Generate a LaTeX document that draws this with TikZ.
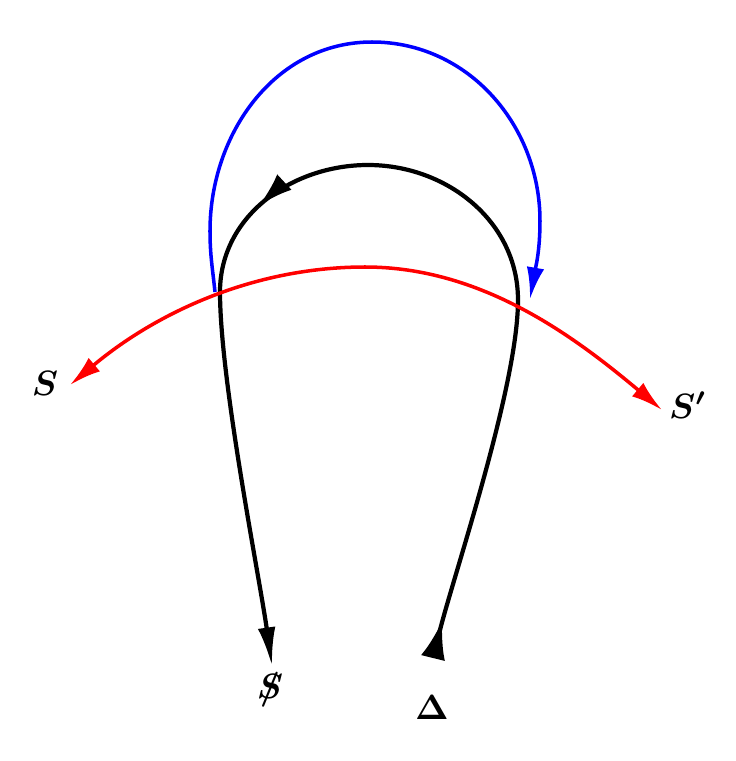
\documentclass[tikz,border=0pt]{standalone}
\usetikzlibrary{arrows.meta,decorations.markings}

\begin{document}
\begin{tikzpicture}
\useasboundingbox (0,0) rectangle (7.36,7.61);
\tikzset{
  tip/.style={-{Latex[length=9pt,width=5pt]}},
  lbl/.style={font=\boldmath}
}

% Points of the paths
\coordinate (D) at (4.33,1.03);
\coordinate (R) at (5.18,4.61);
\coordinate (T) at (3.68,5.96);
\coordinate (L) at (2.20,4.69);
\coordinate (E) at (2.72,0.95);

% Black loop
\draw[line width=1.2pt, {Latex[reversed,length=11pt,width=7pt]}-{Latex[length=11pt,width=5pt]},
  postaction={decorate},
  decoration={markings, mark=at position 0.6 with {\arrow{Latex[length=10pt,width=6pt]}}}]
  (D) to[out=76,in=-90,looseness=0.6] (R) to[out=90,in=0] (T)
  to[out=180,in=90] (L) to[out=-90,in=98,looseness=0.6] (E);

% Red path
\coordinate (SL) at (0.70,3.76);
\coordinate (RT) at (3.65,4.94);
\coordinate (SR) at (6.62,3.51);
\draw[red, line width=1pt, {Latex[length=9pt,width=5pt]}-{Latex[length=9pt,width=5pt]}]
  (SL) to[out=40,in=180,looseness=0.9] (RT) to[out=0,in=140,looseness=0.9] (SR);

% Blue path
\coordinate (BL) at (2.10,5.30);
\coordinate (BT) at (3.72,7.19);
\coordinate (BR) at (5.40,5.40);
\coordinate (BE) at (5.30,4.62);
\draw[blue, line width=1pt, tip]
  (2.15,4.69) to[out=96,in=-90] (BL) to[out=90,in=180] (BT)
  to[out=0,in=90] (BR) to[out=-90,in=80] (BE);

% Labels
\node[lbl] (s) at (0.45,3.78) {$S$};
\node[lbl] (sp) at (6.88,3.56) {$S'$};
\node[lbl] (ss) at (2.70,0.70) {\ooalign{$S$\cr\hfil$/$\hfil\cr}};
\node[lbl] (dl) at (4.32,0.54) {$\Delta$};
\end{tikzpicture}
\end{document}
